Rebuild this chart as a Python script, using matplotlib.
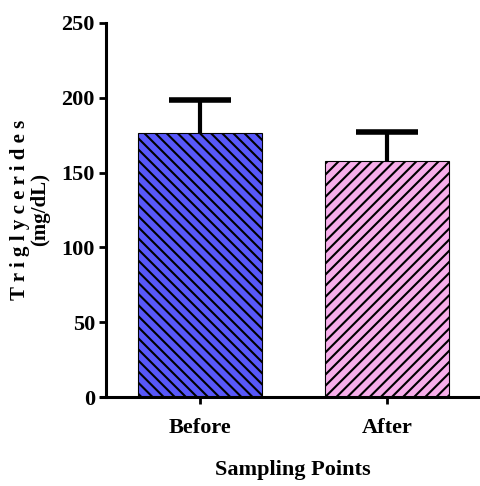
import matplotlib.pyplot as plt

groups = ["Before", "After"]
means = [176.5, 158.0]
upper_err = [22.0, 19.0]
colors = ["#5858FA", "#F7AEEA"]
hatches = ["\\\\\\", "///"]

plt.rcParams["font.family"] = ["Liberation Serif", "DejaVu Serif"]
plt.rcParams["font.weight"] = "bold"
plt.rcParams["hatch.linewidth"] = 1.5

fig = plt.figure(figsize=(4.8, 4.86), dpi=100)
ax = fig.add_axes([0.221, 0.183, 0.779, 0.770])

x = list(range(len(groups)))
bars = ax.bar(x, means, width=0.66, color=colors, edgecolor="black",
              linewidth=0.8, zorder=2)
for b, h in zip(bars, hatches):
    b.set_hatch(h)

_, caps, _ = ax.errorbar(x, means, yerr=[[0, 0], upper_err], fmt="none",
                         ecolor="black", elinewidth=3, capsize=22,
                         capthick=4, zorder=1)
caps[0].set_visible(False)

ax.set_xlim(-0.503, 1.497)
ax.set_ylim(0, 250)
ax.set_yticks([0, 50, 100, 150, 200, 250])
ax.set_xticks(x)
ax.set_xticklabels(groups)

for side in ["top", "right"]:
    ax.spines[side].set_visible(False)
for side in ["left", "bottom"]:
    ax.spines[side].set_linewidth(2.2)
ax.spines["bottom"].set_bounds(-0.53, 1.497)

ax.tick_params(axis="both", width=2, length=5, labelsize=16)
ax.tick_params(axis="x", pad=10)
ax.tick_params(axis="y", pad=3)
ax.set_xlabel("Sampling Points", fontsize=16, fontweight="bold", labelpad=16)
ax.set_ylabel("T r i g l y c e r i d e s\n(mg/dL)", fontsize=15,
              fontweight="bold", labelpad=8, linespacing=1.0)

fig.savefig("out.png", dpi=100)
